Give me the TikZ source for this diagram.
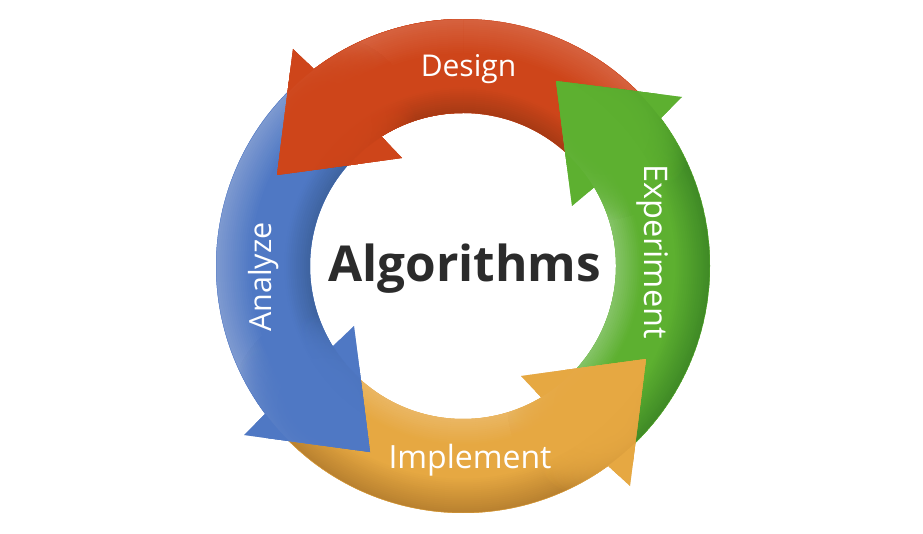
\documentclass[tikz,border=0pt]{standalone}
\usepackage{fontspec}
\setmainfont{Open Sans}
\usetikzlibrary{calc,fadings}
\definecolor{redI}{HTML}{A63A14}\definecolor{redM}{HTML}{CE451A}\definecolor{redO}{HTML}{D6623F}
\definecolor{grnI}{HTML}{86C468}\definecolor{grnM}{HTML}{5DB030}\definecolor{grnO}{HTML}{3F8A26}
\definecolor{orgI}{HTML}{EAB764}\definecolor{orgM}{HTML}{E6A842}\definecolor{orgO}{HTML}{B9812F}
\definecolor{bluI}{HTML}{3E639F}\definecolor{bluM}{HTML}{4F78C4}\definecolor{bluO}{HTML}{7E9AD0}
\newcommand{\ringband}[3]{%
  \foreach \r in {146,148,...,260}{%
    \pgfmathsetmacro{\tin}{max(0,min(100,100*(\r-153)/26))}%
    \pgfmathsetmacro{\tout}{max(0,min(100,100*(\r-212)/35))}%
    \ifdim\r pt>247pt\def\colr{#2}\else\ifdim\r pt<153pt\def\colr{#2}\else
      \ifdim\tin pt<100pt\def\colr{#2!\tin!#1}\else\def\colr{#3!\tout!#2}\fi\fi\fi
    \draw[line width=2.5pt,color=\colr] (C) circle (\r pt);}}
\tikzfading[name=spotfade,inner color=transparent!0,outer color=transparent!100]
\newcommand{\arrowpath}[7]{#1 -- #2 -- ($(C)+(#3:247pt)$) arc[start angle=#3,end angle=#4,radius=247pt] -- ($(C)+(#5:153pt)$) arc[start angle=#5,end angle=#6,radius=153pt] -- #7 -- cycle}
\newcommand{\redpath}{\arrowpath{(277,358)}{(293,484)}{127.15}{40}{40}{122.2}{(402,375)}}
\newcommand{\grnpath}{\arrowpath{(556,452)}{(682,436)}{36.8}{-50}{-50}{31}{(572,327)}}
\newcommand{\orgpath}{\arrowpath{(646,174)}{(630,47)}{-54}{-140}{-140}{-59.2}{(521,157)}}
\newcommand{\blupath}{\arrowpath{(370,81)}{(244,98)}{216.8}{130}{130}{211.7}{(354,207)}}
\newcommand{\paintarrow}[6]{\begin{scope}\clip #1;\fill[#3] (0,0) rectangle (923,533);\ringband{#2}{#3}{#4}
\foreach \k in {1,2,3}{\fill[#3,path fading=spotfade] #5 circle (#6pt);}\end{scope}}
\begin{document}
\begin{tikzpicture}[x=1pt,y=1pt,lbl/.style={text=white,font=\fontsize{#1}{34}\selectfont,inner sep=0pt},lbl/.default=31]
\useasboundingbox (0,0) rectangle (923,533);
\fill[white] (0,0) rectangle (923,533);
\coordinate (C) at (463,267);
\paintarrow{\redpath}{redI}{redM}{redO}{(325,406)}{92}
\paintarrow{\grnpath}{grnI}{grnM}{grnO}{(603,405)}{92}
\paintarrow{\orgpath}{orgI}{orgM}{orgO}{(599,126)}{92}
\paintarrow{\blupath}{bluI}{bluM}{bluO}{(323,129)}{92}
\begin{scope}
\clip (0,0) rectangle (463,533);
\paintarrow{\redpath}{redI}{redM}{redO}{(325,406)}{92}
\end{scope}
\node[lbl=30] (design) at (468.5,463.5) {Design};
\node[lbl=32.5,rotate=-90] (experiment) at (653,281.5) {Experiment};
\node[lbl=32] (implement) at (470,72.5) {Implement};
\node[lbl=30.5,rotate=90] (analyze) at (264,256) {Analyze};
\node[inner sep=0pt,text=black!83,font=\fontsize{49.5}{54}\selectfont\bfseries] (algorithms) at (464.5,264.5) {Algorithms};
\end{tikzpicture}
\end{document}
